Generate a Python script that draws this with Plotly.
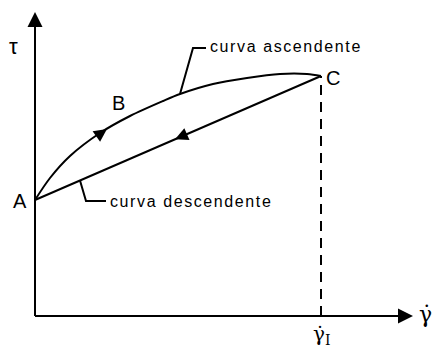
import numpy as np
import plotly.graph_objects as go

# Flow curve (thixotropic loop): shear rate vs shear stress, arbitrary units
gamma_up = [0, 0.15, 0.35, 0.65, 0.95, 1.28, 1.45, 1.78, 2.12, 2.45, 2.72, 2.86]
tau_up = [1.16, 1.38, 1.60, 1.83, 2.00, 2.15, 2.22, 2.32, 2.38, 2.42, 2.42, 2.40]
gamma_down = [2.86, 0]
tau_down = [2.40, 1.16]

gamma_1 = 2.86          # shear rate at point C
x_axis_end = 3.78       # tip of the horizontal axis arrow
y_axis_end = 3.04       # tip of the vertical axis arrow

# direction arrows on the two branches (tip position along shear rate)
arrow_up_x, arrow_up_y = 0.72, 1.87
arrow_down_x = 1.40

INK = "black"
LW = 2
FONT = "Liberation Sans, Arial, sans-serif"

slope_down = (tau_down[0] - tau_down[1]) / (gamma_down[0] - gamma_down[1])
arrow_down_y = tau_down[1] + slope_down * arrow_down_x

fig = go.Figure()

# axes
fig.add_trace(go.Scatter(x=[0, 0], y=[0, y_axis_end - 0.05], mode="lines",
                         line=dict(color=INK, width=LW), hoverinfo="skip"))
fig.add_trace(go.Scatter(x=[0, x_axis_end - 0.05], y=[0, 0], mode="lines",
                         line=dict(color=INK, width=LW), hoverinfo="skip"))
fig.add_trace(go.Scatter(x=[0, x_axis_end], y=[y_axis_end, 0], mode="markers",
                         marker=dict(symbol="arrow-up", size=15, color=INK,
                                     angle=[0, 90], line=dict(width=0)),
                         hoverinfo="skip"))

# dashed guide from C down to the shear-rate axis
fig.add_trace(go.Scatter(x=[gamma_1, gamma_1], y=[0, tau_up[-1]], mode="lines",
                         line=dict(color=INK, width=LW, dash="10px,7px"),
                         hoverinfo="skip"))

# ascending and descending branches
fig.add_trace(go.Scatter(x=gamma_up, y=tau_up, mode="lines",
                         line=dict(color=INK, width=LW, shape="spline", smoothing=0.9),
                         hoverinfo="skip"))
fig.add_trace(go.Scatter(x=gamma_down, y=tau_down, mode="lines",
                         line=dict(color=INK, width=LW), hoverinfo="skip"))

# direction arrows
ang_up = np.degrees(np.arctan2(0.30, 0.21))
ang_down = np.degrees(np.arctan2(gamma_down[1] - gamma_down[0], tau_down[1] - tau_down[0]))
fig.add_trace(go.Scatter(x=[arrow_up_x, arrow_down_x], y=[arrow_up_y, arrow_down_y],
                         mode="markers",
                         marker=dict(symbol="arrow-up", size=13, color=INK,
                                     angle=[ang_up, ang_down], line=dict(width=0)),
                         hoverinfo="skip"))

# leader lines for the branch labels
asc_label = (1.73, 2.70)
desc_label = (0.73, 1.15)
asc_anchor = (gamma_up[6], tau_up[6])
desc_anchor_x = 0.45
desc_anchor = (desc_anchor_x, tau_down[1] + slope_down * desc_anchor_x)
fig.add_trace(go.Scatter(
    x=[asc_anchor[0], asc_anchor[0] + 0.13, asc_label[0] - 0.02],
    y=[asc_anchor[1], asc_label[1] - 0.02, asc_label[1] - 0.02],
    mode="lines", line=dict(color=INK, width=LW), hoverinfo="skip"))
fig.add_trace(go.Scatter(
    x=[desc_anchor[0], desc_anchor[0] + 0.06, desc_label[0] - 0.02],
    y=[desc_anchor[1], desc_label[1], desc_label[1]],
    mode="lines", line=dict(color=INK, width=LW), hoverinfo="skip"))

spaced = '<span style="letter-spacing:1.6px">{}</span>'
fig.add_annotation(x=asc_label[0], y=asc_label[1], text=spaced.format("curva ascendente"),
                   xanchor="left", yanchor="middle", showarrow=False,
                   font=dict(family=FONT, size=16, color=INK))
fig.add_annotation(x=desc_label[0], y=desc_label[1], text=spaced.format("curva descendente"),
                   xanchor="left", yanchor="middle", showarrow=False,
                   font=dict(family=FONT, size=16, color=INK))

# point labels
for txt, px, py in [("A", -0.15, 1.15), ("B", 0.83, 2.13), ("C", 2.98, 2.38)]:
    fig.add_annotation(x=px, y=py, text=txt, showarrow=False,
                       xanchor="center", yanchor="middle",
                       font=dict(family=FONT, size=20, color=INK))

# axis symbols
fig.add_annotation(x=-0.22, y=2.70, text="τ", showarrow=False,
                   font=dict(family=FONT, size=22, color=INK))
fig.add_annotation(x=3.90, y=0.02, text="γ̇", showarrow=False,
                   font=dict(family="DejaVu Serif, serif", size=22, color=INK))
fig.add_annotation(x=gamma_1, y=-0.19, text="γ̇<sub>I</sub>", showarrow=False,
                   font=dict(family="DejaVu Serif, serif", size=20, color=INK))

fig.update_layout(
    width=434, height=350,
    margin=dict(l=0, r=0, t=0, b=0),
    paper_bgcolor="white", plot_bgcolor="white",
    showlegend=False,
    xaxis=dict(range=[-0.35, 3.99], visible=False, fixedrange=True),
    yaxis=dict(range=[-0.34, 3.16], visible=False, fixedrange=True),
)

fig.write_html("out.html")
